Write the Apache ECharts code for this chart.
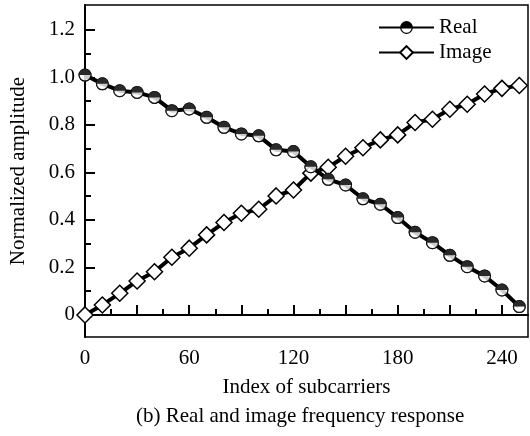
<!DOCTYPE html>
<html>
<head>
<meta charset="utf-8">
<script src="https://cdn.jsdelivr.net/npm/echarts@6/dist/echarts.min.js"></script>
<style>
  html, body { margin: 0; padding: 0; background: #fff; }
  #chart { width: 530px; height: 436px; }
</style>
</head>
<body>
<div id="chart"></div>
<script>
// Subcarrier indices and normalized amplitudes
const subcarriers = [0, 10, 20, 30, 40, 50, 60, 70, 80, 90, 100, 110, 120,
  130, 140, 150, 160, 170, 180, 190, 200, 210, 220, 230, 240, 250];
const realPart = [1.01, 0.973, 0.944, 0.937, 0.916, 0.86, 0.867, 0.832, 0.79, 0.762,
  0.754, 0.695, 0.688, 0.624, 0.571, 0.547, 0.489, 0.466, 0.41, 0.348, 0.304,
  0.251, 0.203, 0.164, 0.105, 0.035];
const imagPart = [0.0, 0.042, 0.091, 0.143, 0.182, 0.243, 0.281, 0.337, 0.389, 0.428,
  0.445, 0.501, 0.526, 0.597, 0.622, 0.668, 0.704, 0.737, 0.758, 0.81, 0.824,
  0.866, 0.887, 0.93, 0.954, 0.966];

// Tick positions
const xLabelTicks = [0, 60, 120, 180, 240];
const xMajorTicks = [0, 30, 60, 90, 120, 150, 180, 210, 240];
const xMinorTicks = [15, 45, 75, 105, 135, 165, 195, 225];
const yMajorTicks = [0, 0.2, 0.4, 0.6, 0.8, 1.0, 1.2];
const yMinorTicks = [0.1, 0.3, 0.5, 0.7, 0.9, 1.1];

const FONT = '"Liberation Serif", "Times New Roman", serif';
const FS = 21;
const realPts = subcarriers.map((x, i) => [x, realPart[i]]);
const imagPts = subcarriers.map((x, i) => [x, imagPart[i]]);

// half-filled circle marker: black outline ring with a solid upper half
const halfRing = 'path://M-10,0A10,10,0,0,1,10,0A10,10,0,0,1,-10,0ZM-8.1,0A8.1,8.1,0,0,0,8.1,0Z';
const MARK = 13;

const xRange = { min: 0, max: 255 };
const yRange = { min: -0.093, max: 1.305 };

const chart = echarts.init(document.getElementById('chart'), null, { renderer: 'canvas' });
chart.setOption({
  animation: false,
  backgroundColor: '#fff',
  textStyle: { fontFamily: FONT, color: '#000' },
  title: {
    text: '(b) Real and image frequency response',
    left: 131, bottom: 4,
    textStyle: { fontFamily: FONT, fontSize: FS, fontWeight: 'normal', color: '#000' }
  },
  legend: {
    orient: 'vertical',
    left: 373, top: 12,
    itemWidth: 55, itemHeight: 16, itemGap: 4,
    textStyle: { fontFamily: FONT, fontSize: FS, color: '#000' },
    data: ['Real', 'Image']
  },
  grid: {
    left: 80, right: 2, top: 5, bottom: 99,
    show: true, borderColor: '#000', borderWidth: 1.5, backgroundColor: 'transparent'
  },
  xAxis: [
    {
      type: 'value', ...xRange, position: 'bottom',
      name: 'Index of subcarriers', nameLocation: 'middle', nameGap: 40,
      nameTextStyle: { fontFamily: FONT, fontSize: FS, color: '#000' },
      axisLine: { lineStyle: { color: '#000', width: 2 } },
      axisTick: { inside: true, length: 10, lineStyle: { color: '#000', width: 2 }, customValues: xMajorTicks },
      axisLabel: { customValues: xLabelTicks, margin: 11, fontFamily: FONT, fontSize: FS, color: '#000' },
      splitLine: { show: false }
    },
    {
      type: 'value', ...xRange, position: 'bottom',
      axisLine: { show: false },
      axisTick: { inside: true, length: 6, lineStyle: { color: '#000', width: 2 }, customValues: xMinorTicks },
      axisLabel: { show: false },
      splitLine: { show: false }
    }
  ],
  yAxis: [
    {
      type: 'value', ...yRange, position: 'left',
      name: 'Normalized amplitude', nameLocation: 'middle', nameGap: 56,
      nameTextStyle: { fontFamily: FONT, fontSize: FS, color: '#000' },
      axisLine: { lineStyle: { color: '#000', width: 2 } },
      axisTick: { inside: true, length: 10, lineStyle: { color: '#000', width: 2 }, customValues: yMajorTicks },
      axisLabel: {
        customValues: yMajorTicks, margin: 10, fontFamily: FONT, fontSize: FS, color: '#000',
        formatter: v => (Math.abs(v) < 1e-9 ? '0' : v.toFixed(1))
      },
      splitLine: { show: false }
    },
    {
      type: 'value', ...yRange, position: 'left',
      axisLine: { show: false },
      axisTick: { inside: true, length: 6, lineStyle: { color: '#000', width: 2 }, customValues: yMinorTicks },
      axisLabel: { show: false },
      splitLine: { show: false }
    }
  ],
  series: [
    {
      name: 'Image', type: 'line', data: imagPts,
      symbol: 'diamond', symbolSize: 16, showAllSymbol: true,
      lineStyle: { color: '#000', width: 4 },
      itemStyle: { color: '#fff', borderColor: '#000', borderWidth: 1.5 },
      z: 2
    },
    {
      name: 'Real', type: 'line', data: realPts,
      symbol: halfRing, symbolSize: MARK, showAllSymbol: true,
      lineStyle: { color: '#000', width: 4 },
      itemStyle: { color: '#000', borderWidth: 0 },
      z: 3
    },
    {
      // white discs hide the line behind the lower half of each marker
      name: 'RealFill', type: 'scatter', data: realPts,
      symbol: 'circle', symbolSize: MARK - 1,
      itemStyle: { color: '#fff', borderWidth: 0 },
      silent: true, z: 4
    },
    {
      name: 'RealMark', type: 'scatter', data: realPts,
      symbol: halfRing, symbolSize: MARK,
      itemStyle: { color: '#000', borderWidth: 0 },
      silent: true, z: 5
    }
  ]
});
</script>
</body>
</html>
